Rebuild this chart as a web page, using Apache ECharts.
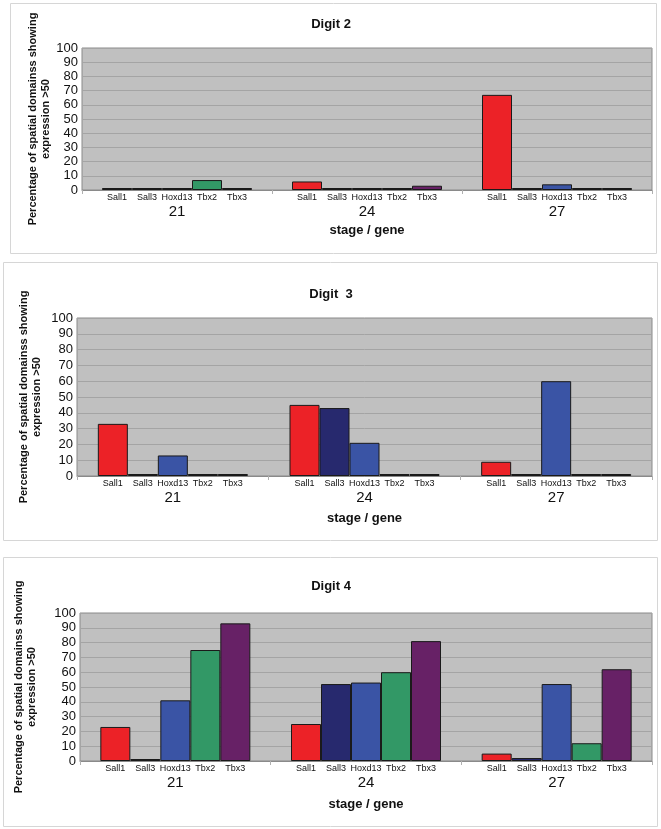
<!DOCTYPE html>
<html>
<head>
<meta charset="utf-8">
<script src="https://cdn.jsdelivr.net/npm/echarts@6/dist/echarts.min.js"></script>
<style>
html,body{margin:0;padding:0;background:#fff;}
#c{width:661px;height:829px;}
</style>
</head>
<body>
<div id="c"></div>
<script>
// ---- data ----
const stages = ['21', '24', '27'];
const genes = ['Sall1', 'Sall3', 'Hoxd13', 'Tbx2', 'Tbx3'];
const geneColors = ['#ec2227', '#27296e', '#3a54a5', '#329866', '#672166'];
const yTicks = [0, 100, 10]; // min, max, interval

const digit2Sall1 = [0, 6, 67];
const digit2Sall3 = [0, 0, 0];
const digit2Hoxd13 = [0, 0, 4];
const digit2Tbx2 = [7, 0, 0];
const digit2Tbx3 = [1, 3, 0];

const digit3Sall1 = [33, 45, 9];
const digit3Sall3 = [0, 43, 0];
const digit3Hoxd13 = [13, 21, 60];
const digit3Tbx2 = [0, 0, 0];
const digit3Tbx3 = [0, 0, 0];

const digit4Sall1 = [23, 25, 5];
const digit4Sall3 = [1, 52, 2];
const digit4Hoxd13 = [41, 53, 52];
const digit4Tbx2 = [75, 60, 12];
const digit4Tbx3 = [93, 81, 62];

const panelTitles = ['Digit 2', 'Digit  3', 'Digit 4'];
const yName = 'Percentage of spatial domainss showing\nexpression >50';
const xName = 'stage / gene';

const digits = [
  [digit2Sall1, digit2Sall3, digit2Hoxd13, digit2Tbx2, digit2Tbx3],
  [digit3Sall1, digit3Sall3, digit3Hoxd13, digit3Tbx2, digit3Tbx3],
  [digit4Sall1, digit4Sall3, digit4Hoxd13, digit4Tbx2, digit4Tbx3]
];

// ---- layout ----
const FONT = '"Liberation Sans", Arial, sans-serif';
const grids = [
  {left: 82, top: 48, width: 570, height: 142},
  {left: 77, top: 318, width: 575, height: 158},
  {left: 80, top: 613, width: 572, height: 148}
];
const titleTops = [18, 288, 580];
const yNameGaps = [30, 34, 42];
const xNameGaps = [34, 36, 37];
const panels = [
  {x: 10, y: 3, w: 646, h: 250},
  {x: 3, y: 262, w: 654, h: 278},
  {x: 3, y: 557, w: 654, h: 269}
];

const option = {
  animation: false,
  backgroundColor: '#ffffff',
  textStyle: {fontFamily: FONT},
  graphic: panels.map(p => ({
    type: 'rect', silent: true, z: -10,
    shape: {x: p.x + 0.5, y: p.y + 0.5, width: p.w, height: p.h},
    style: {fill: '#ffffff', stroke: '#d6d6d6', lineWidth: 1}
  })),
  title: panelTitles.map((t, i) => ({
    text: t, left: 331, top: titleTops[i], textAlign: 'center', padding: 0,
    textStyle: {fontFamily: FONT, fontSize: 13, fontWeight: 'bold', color: '#111'}
  })),
  grid: grids.map(g => Object.assign({
    show: true, backgroundColor: '#c0c0c0', borderColor: '#8a8a8a', borderWidth: 1,
    containLabel: false
  }, g)),
  xAxis: grids.map((g, i) => ({
    gridIndex: i, type: 'category', data: stages,
    name: xName, nameLocation: 'middle', nameGap: xNameGaps[i], nameMoveOverlap: false,
    nameTextStyle: {fontFamily: FONT, fontSize: 13, fontWeight: 'bold', color: '#111'},
    axisLine: {show: true, lineStyle: {color: '#8a8a8a', width: 1}},
    axisTick: {show: true, length: 4, lineStyle: {color: '#b0b0b0'}},
    axisLabel: {fontFamily: FONT, fontSize: 15, color: '#111', margin: 14}
  })),
  yAxis: grids.map((g, i) => ({
    gridIndex: i, type: 'value', min: yTicks[0], max: yTicks[1], interval: yTicks[2],
    name: yName, nameLocation: 'middle', nameGap: yNameGaps[i], nameMoveOverlap: false,
    nameTextStyle: {fontFamily: FONT, fontSize: 11, fontWeight: 'bold', color: '#111', lineHeight: 13},
    axisLine: {show: false}, axisTick: {show: false},
    axisLabel: {fontFamily: FONT, fontSize: 13, color: '#111', margin: 4},
    splitLine: {show: true, lineStyle: {color: '#a4a4a4', width: 1}}
  })),
  series: []
};

digits.forEach((vals, gi) => {
  genes.forEach((gene, k) => {
    option.series.push({
      type: 'bar', name: gene, xAxisIndex: gi, yAxisIndex: gi,
      data: vals[k].map(v => v > 0 ? v : {value: v, itemStyle: {color: '#141414'}}),
      barWidth: 30, barGap: '0%', barMinHeight: 2,
      itemStyle: {color: geneColors[k], borderColor: '#1a1a1a', borderWidth: 1},
      label: {
        show: true, position: 'bottom', distance: 3, formatter: gene,
        fontFamily: FONT, fontSize: 9, color: '#111'
      }
    });
  });
});

const chart = echarts.init(document.getElementById('c'), null, {renderer: 'canvas'});
chart.setOption(option);
</script>
</body>
</html>
